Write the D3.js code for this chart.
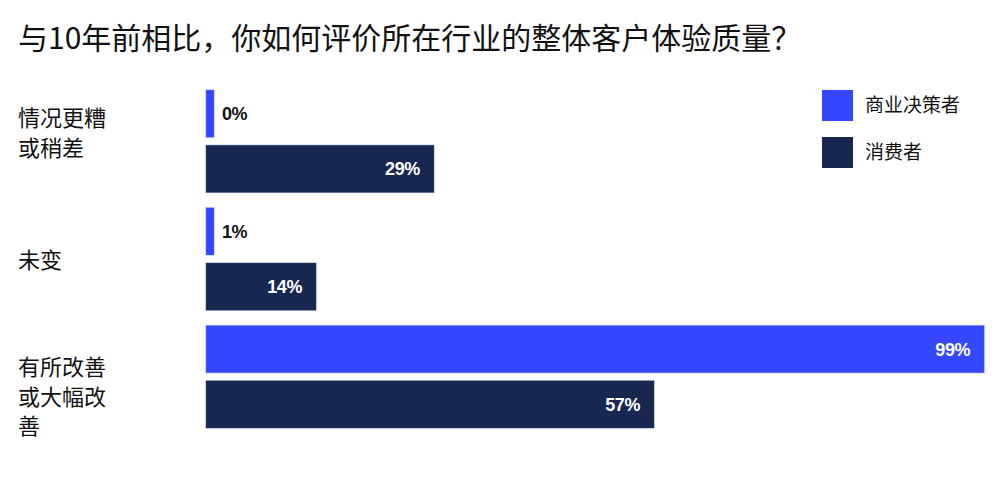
<!DOCTYPE html>
<html>
<head>
<meta charset="utf-8">
<script src="https://cdn.jsdelivr.net/npm/d3@7"></script>
<style>
  body { margin: 0; background: #fff; }
  svg { display: block; }
</style>
</head>
<body>
<div id="chart"></div>
<script>
// data
const title = "与10年前相比，你如何评价所在行业的整体客户体验质量？";
const categories = ["情况更糟或稍差", "未变", "有所改善或大幅改善"];
const categoryLines = [["情况更糟", "或稍差"], ["未变"], ["有所改善", "或大幅改", "善"]];
const seriesNames = ["商业决策者", "消费者"];
const businessValues = [0, 1, 99];
const consumerValues = [29, 14, 57];
const seriesColors = ["#3447ff", "#172750"];

const width = 1000, height = 480;
const cjk = "'Noto Sans CJK SC', 'Noto Sans', sans-serif";
const numFont = "'Liberation Sans', Arial, Helvetica, sans-serif";
const labelShift = [-8, 1, 20]; // category labels don't sit centered in the original

const rows = categories.map((c, i) => ({
  cat: c,
  values: [businessValues[i], consumerValues[i]]
}));

const svg = d3.select("#chart").append("svg")
  .attr("width", width)
  .attr("height", height);

// title
svg.append("text")
  .attr("x", 18)
  .attr("y", 49)
  .attr("font-family", cjk)
  .attr("font-size", 30)
  .attr("fill", "#111")
  .text(title);

// scales
const x = d3.scaleLinear().domain([0, 100]).range([206, 992]);
const y0 = d3.scaleBand().domain(categories).range([90, 428]).paddingInner(0.13);
const y1 = d3.scaleBand().domain(seriesNames).range([0, y0.bandwidth()]).paddingInner(0.145);
const minW = 8;

const groups = svg.selectAll(".grp")
  .data(rows)
  .join("g")
  .attr("class", "grp")
  .attr("transform", d => `translate(0,${y0(d.cat)})`);

const bars = groups.selectAll(".bar")
  .data(d => d.values.map((v, j) => ({ v, s: seriesNames[j], j })))
  .join("g")
  .attr("class", "bar");

bars.append("rect")
  .attr("x", x(0))
  .attr("y", d => y1(d.s))
  .attr("width", d => Math.max(x(d.v) - x(0), minW))
  .attr("height", y1.bandwidth())
  .attr("fill", d => seriesColors[d.j])
  .attr("stroke", d => d3.color(seriesColors[d.j]).brighter(1.2))
  .attr("stroke-opacity", 0.5)
  .attr("stroke-width", 1);

// value labels: inside (white) for long bars, outside (black) for short
bars.append("text")
  .attr("x", d => d.v > 5 ? x(d.v) - 14 : x(0) + minW + 8)
  .attr("y", d => y1(d.s) + y1.bandwidth() / 2)
  .attr("dy", "0.36em")
  .attr("text-anchor", d => d.v > 5 ? "end" : "start")
  .attr("font-family", numFont)
  .attr("font-weight", "bold")
  .attr("font-size", 18)
  .attr("letter-spacing", -0.4)
  .attr("fill", d => d.v > 5 ? "#fff" : "#111")
  .text(d => d.v + "%");

// category labels
const lineH = 29.5;
svg.selectAll(".cat")
  .data(categories)
  .join("text")
  .attr("class", "cat")
  .attr("font-family", cjk)
  .attr("font-size", 22)
  .attr("fill", "#111")
  .each(function(c, i) {
    const lines = categoryLines[i];
    const mid = y0(c) + y0.bandwidth() / 2 + labelShift[i];
    const top = mid - (lines.length - 1) * lineH / 2;
    d3.select(this).selectAll("tspan")
      .data(lines)
      .join("tspan")
      .attr("x", 18)
      .attr("y", (l, k) => top + k * lineH)
      .attr("dy", "0.36em")
      .text(l => l);
  });

// legend
const legend = svg.append("g").attr("transform", "translate(822,90)");
const li = legend.selectAll("g")
  .data(seriesNames)
  .join("g")
  .attr("transform", (d, i) => `translate(0,${i * 47})`);
li.append("rect")
  .attr("width", 31)
  .attr("height", 31)
  .attr("fill", (d, i) => seriesColors[i]);
li.append("text")
  .attr("x", 43)
  .attr("y", 15.5)
  .attr("dy", "0.36em")
  .attr("font-family", cjk)
  .attr("font-size", 19)
  .attr("fill", "#111")
  .text(d => d);
</script>
</body>
</html>
